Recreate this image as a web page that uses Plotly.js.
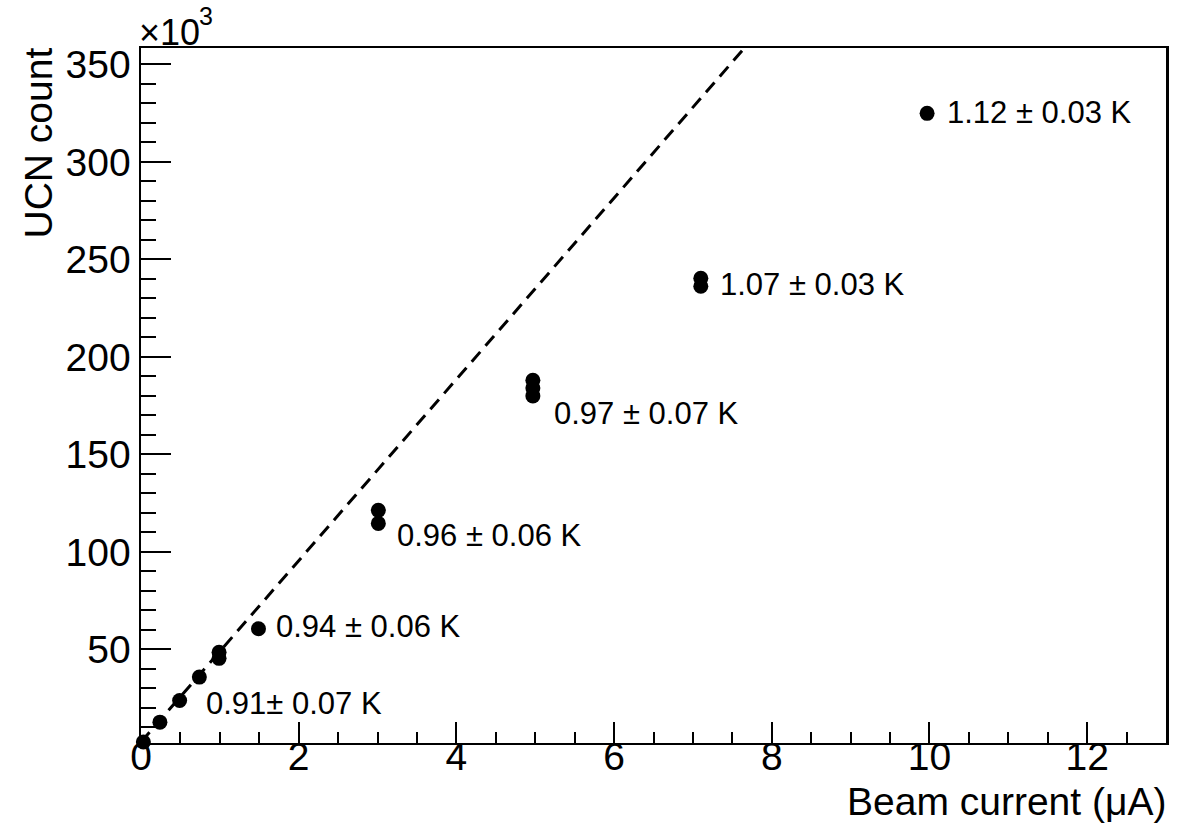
<!DOCTYPE html>
<html>
<head>
<meta charset="utf-8">
<script src="https://cdn.plot.ly/plotly-3.0.1.min.js"></script>
<style>html,body{margin:0;padding:0;background:#fff;}#chart{width:1192px;height:824px;}</style>
</head>
<body>
<div id="chart"></div>
<script>
// Beam current (uA) and UCN counts (x10^3)
var beamCurrent = [0.03, 0.24, 0.49, 0.74, 0.99, 0.99, 1.49, 3.01, 3.01, 4.97, 4.97, 4.97, 7.1, 7.1, 9.97];
var ucnCount    = [2.5, 12.7, 23.8, 35.8, 48.5, 45.4, 60.6, 121.3, 114.6, 188, 184, 180, 240.3, 236.2, 324.9];

// Linear fit line (dashed), endpoints
var fitX = [0, 7.8];
var fitY = [2.5, 365.2];

// Temperature labels and their anchor positions (data coords)
var labelText = ["1.12 \u00b1 0.03 K", "1.07 \u00b1 0.03 K", "0.97 \u00b1 0.07 K", "0.96 \u00b1 0.06 K", "0.94 \u00b1 0.06 K", "0.91\u00b1 0.07 K"];
var labelX = [10.2, 7.32, 5.21, 3.22, 1.69, 0.80];
var labelY = [325.4, 237.2, 171, 108.5, 61.8, 22.3];

var FONT = "Liberation Sans, Arial, sans-serif";

var traces = [
  {x: fitX, y: fitY, mode: 'lines', type: 'scatter',
   line: {color: 'black', width: 3, dash: '13px,8px'}, hoverinfo: 'skip', showlegend: false},
  {x: beamCurrent, y: ucnCount, mode: 'markers', type: 'scatter', cliponaxis: false,
   marker: {color: 'black', size: 15}, showlegend: false}
];

var annotations = labelText.map(function(t, i){
  return {x: labelX[i], y: labelY[i], xref: 'x', yref: 'y', text: t,
          showarrow: false, xanchor: 'left', yanchor: 'middle',
          font: {family: FONT, size: 31, color: 'black'}};
});
annotations.push({xref: 'paper', yref: 'paper', x: 0, y: 1, xanchor: 'left', yanchor: 'bottom',
  text: '\u00d710', showarrow: false, yshift: -7, xshift: -4,
  font: {family: FONT, size: 36, color: 'black'}});
annotations.push({xref: 'paper', yref: 'paper', x: 0, y: 1, xanchor: 'left', yanchor: 'bottom',
  text: '3', showarrow: false, yshift: 16, xshift: 56,
  font: {family: FONT, size: 25, color: 'black'}});
annotations.push({xref: 'paper', yref: 'paper', x: 0, y: 1, xanchor: 'center', yanchor: 'top',
  text: 'UCN count', textangle: -90, showarrow: false, xshift: -103, yshift: 2,
  font: {family: FONT, size: 39, color: 'black'}});
annotations.push({xref: 'paper', yref: 'paper', x: 1, y: 0, xanchor: 'right', yanchor: 'middle',
  text: 'Beam current (\u03bcA)', showarrow: false, yshift: -58, xshift: 2,
  font: {family: FONT, size: 39, color: 'black'}});

var layout = {
  width: 1192, height: 824,
  margin: {l: 141, r: 26, t: 48, b: 81, pad: 0},
  paper_bgcolor: 'white', plot_bgcolor: 'white',
  font: {family: FONT, size: 39, color: 'black'},
  showlegend: false,
  xaxis: {range: [0, 13], showgrid: false, zeroline: false, showline: true, mirror: true,
          linecolor: 'black', linewidth: 2, ticks: 'inside', ticklen: 21, tickwidth: 2, tickcolor: 'black',
          tick0: 0, dtick: 2, ticklabelstandoff: -22, tickfont: {family: FONT, size: 39, color: 'black'},
          minor: {dtick: 0.5, ticks: 'inside', ticklen: 11, tickwidth: 2, tickcolor: 'black', showgrid: false}},
  yaxis: {range: [2, 358.4], showgrid: false, zeroline: false, showline: true, mirror: true,
          linecolor: 'black', linewidth: 2.5, ticks: 'inside', ticklen: 30, tickwidth: 2, tickcolor: 'black',
          tick0: 0, dtick: 50, tickfont: {family: FONT, size: 39, color: 'black'},
          minor: {dtick: 10, ticks: 'inside', ticklen: 15, tickwidth: 2, tickcolor: 'black', showgrid: false}},
  annotations: annotations
};

Plotly.newPlot('chart', traces, layout, {displayModeBar: false, staticPlot: true});
</script>
</body>
</html>
